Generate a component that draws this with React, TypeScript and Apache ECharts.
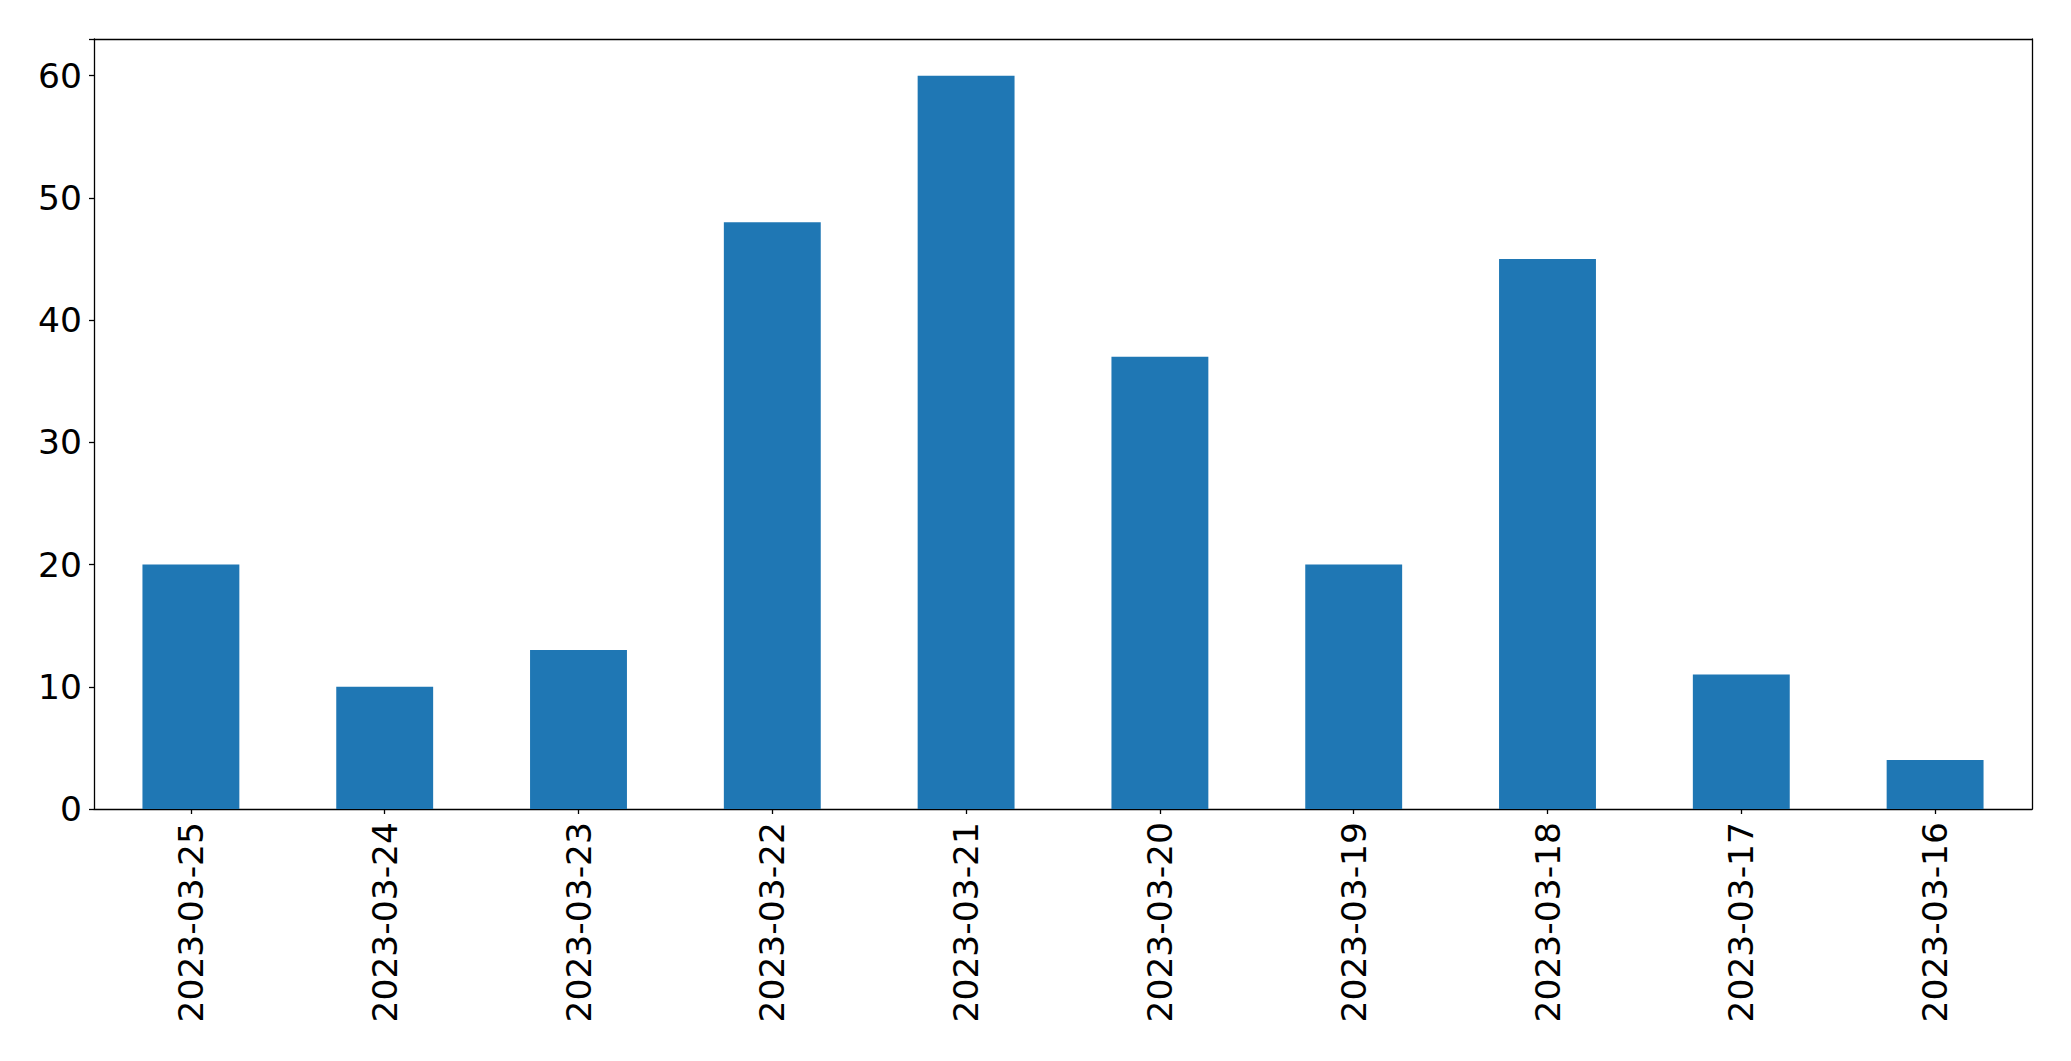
import React, { useEffect, useRef } from "react";
import * as echarts from "echarts";

const categories = [
  "2023-03-25", "2023-03-24", "2023-03-23", "2023-03-22", "2023-03-21",
  "2023-03-20", "2023-03-19", "2023-03-18", "2023-03-17", "2023-03-16",
];
const values = [20, 10, 13, 48, 60, 37, 20, 45, 11, 4];
const yTicks = [0, 10, 20, 30, 40, 50, 60];

export default function App() {
  const ref = useRef<HTMLDivElement>(null);
  useEffect(() => {
    document.body.style.margin = "0";
    const chart = echarts.init(ref.current!, null, { renderer: "svg" });
    const font = "DejaVu Sans";
    const line = { color: "#000", width: 1.3 };
    chart.setOption({
      animation: false,
      backgroundColor: "#ffffff",
      grid: { left: 94, right: 39, top: 39, bottom: 252, containLabel: false },
      xAxis: [
        {
          type: "category",
          data: categories,
          boundaryGap: true,
          axisLine: { show: true, onZero: false, lineStyle: line },
          axisTick: { show: true, alignWithLabel: true, length: 5, lineStyle: line },
          axisLabel: { rotate: 90, fontFamily: font, fontSize: 34.5, color: "#000", margin: 13, interval: 0 },
          splitLine: { show: false },
        },
        {
          type: "category",
          data: categories,
          position: "top",
          axisLine: { show: true, onZero: false, lineStyle: line },
          axisTick: { show: false },
          axisLabel: { show: false },
        },
      ],
      yAxis: [
        {
          type: "value",
          min: 0,
          max: 63,
          interval: 10,
          axisLine: { show: true, onZero: false, lineStyle: line },
          axisTick: { show: true, length: 5, lineStyle: line },
          axisLabel: {
            fontFamily: font,
            fontSize: 34.5,
            color: "#000",
            margin: 12,
            formatter: (v: number) => (yTicks.includes(v) ? String(v) : ""),
          },
          splitLine: { show: false },
        },
        {
          type: "value",
          min: 0,
          max: 63,
          position: "right",
          axisLine: { show: true, onZero: false, lineStyle: line },
          axisTick: { show: false },
          axisLabel: { show: false },
          splitLine: { show: false },
        },
      ],
      series: [
        {
          type: "bar",
          data: values,
          barWidth: "50%",
          itemStyle: { color: "#1f77b4" },
        },
      ],
    });
    return () => chart.dispose();
  }, []);
  return <div ref={ref} style={{ width: 2071, height: 1061 }} />;
}
